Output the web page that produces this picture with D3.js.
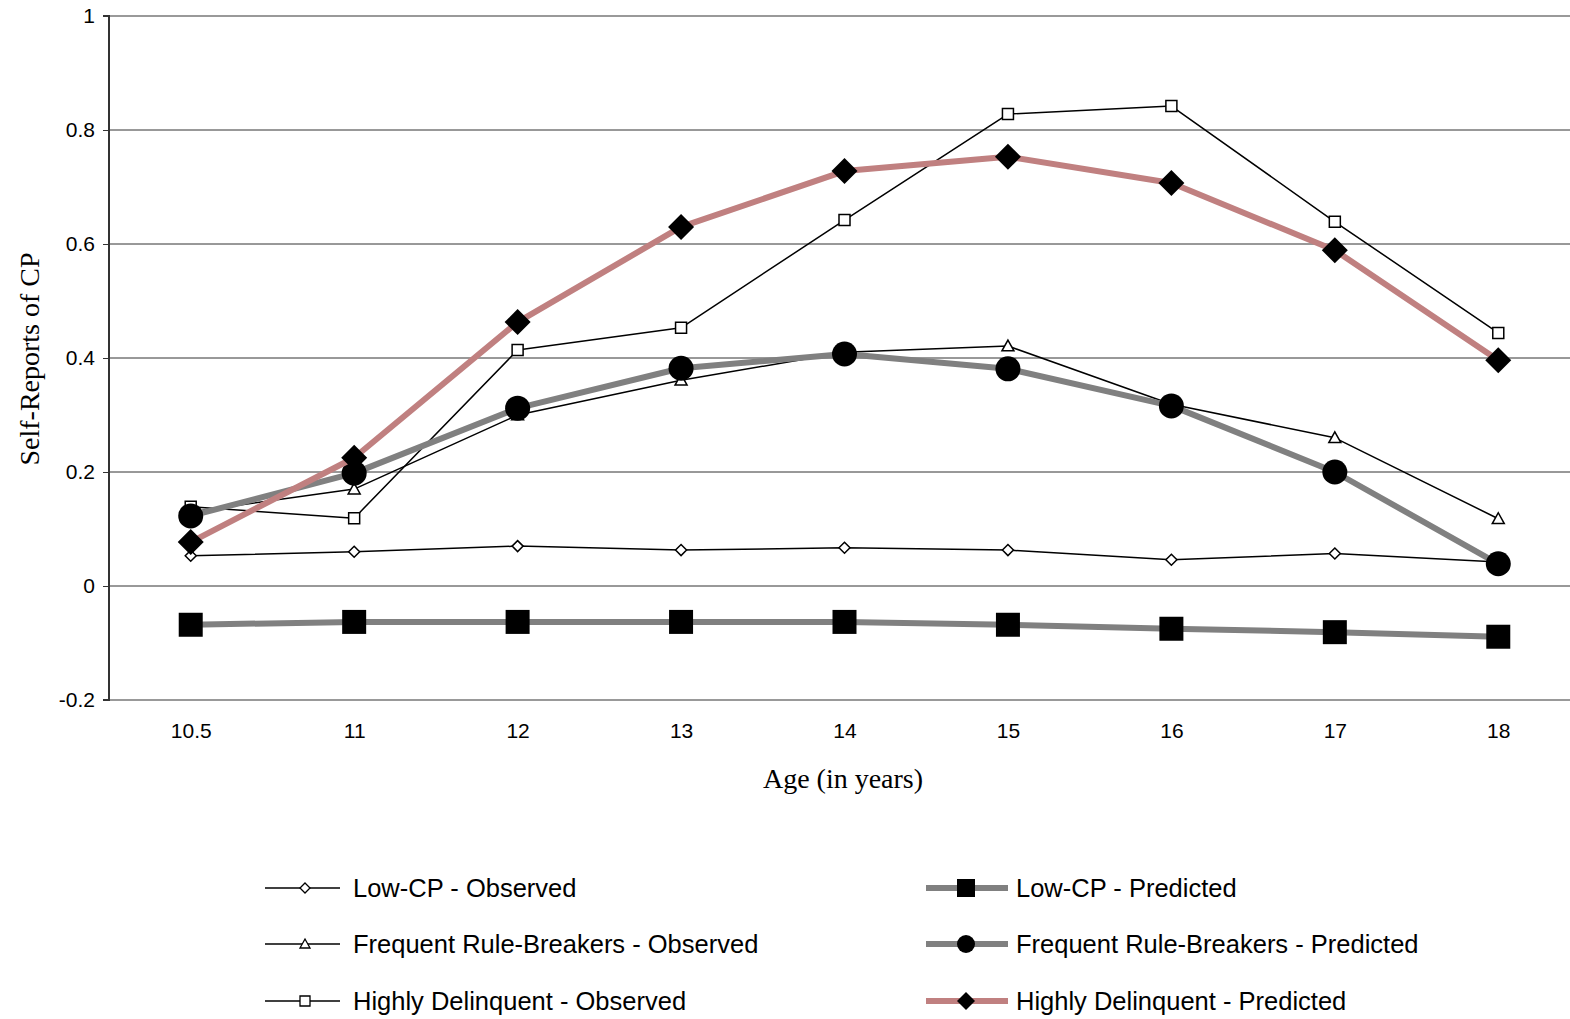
<!DOCTYPE html>
<html><head><meta charset="utf-8">
<script src="https://cdn.jsdelivr.net/npm/d3@7"></script>
<style>body{margin:0;background:#fff}svg{display:block}</style>
</head><body>
<svg id="c" width="1570" height="1019"></svg>
<script>
const ages = ["10.5","11","12","13","14","15","16","17","18"];
const yTicks = [-0.2,0,0.2,0.4,0.6,0.8,1];
const lowObs  = [0.053,0.060,0.070,0.063,0.067,0.063,0.046,0.057,0.042];
const lowPred = [-0.068,-0.063,-0.063,-0.063,-0.063,-0.068,-0.075,-0.081,-0.089];
const frbObs  = [0.130,0.170,0.300,0.361,0.410,0.421,0.319,0.260,0.118];
const frbPred = [0.123,0.198,0.312,0.382,0.407,0.381,0.316,0.200,0.039];
const hdObs   = [0.139,0.119,0.414,0.453,0.642,0.828,0.842,0.639,0.444];
const hdPred  = [0.077,0.225,0.463,0.630,0.728,0.753,0.707,0.589,0.396];
const seriesNames = ["Low-CP - Observed","Frequent Rule-Breakers - Observed","Highly Delinquent - Observed",
                     "Low-CP - Predicted","Frequent Rule-Breakers - Predicted","Highly Delinquent - Predicted"];

const series = [
  {name:seriesNames[0], values:lowObs,  color:"#000", width:1.5, marker:"diamond", size:11, fill:"#fff"},
  {name:seriesNames[1], values:frbObs,  color:"#000", width:1.5, marker:"triangle", size:12, fill:"#fff"},
  {name:seriesNames[2], values:hdObs,   color:"#000", width:1.5, marker:"square", size:11, fill:"#fff"},
  {name:seriesNames[3], values:lowPred, color:"#808080", width:6, marker:"square", size:24, fill:"#000"},
  {name:seriesNames[4], values:frbPred, color:"#808080", width:6, marker:"circle", size:25, fill:"#000"},
  {name:seriesNames[5], values:hdPred,  color:"#C08080", width:6, marker:"diamond", size:26, fill:"#000"}
];

const svg = d3.select("#c");
const L = 109, R = 1580, T = 16, B = 700;
const x = d3.scalePoint().domain(ages).range([L, R]).padding(0.5);
const y = d3.scaleLinear().domain([-0.2, 1]).range([B, T]);
const sans = "Arial, 'Liberation Sans', sans-serif";
const serif = "'Liberation Serif', 'Times New Roman', serif";

// gridlines
svg.append("g").selectAll("line").data(yTicks).join("line")
  .attr("x1", L).attr("x2", R)
  .attr("y1", d => y(d)).attr("y2", d => y(d))
  .attr("stroke", d => (d === 1 || d === -0.2) ? "#999" : "#333")
  .attr("stroke-width", d => (d === 1 || d === -0.2) ? 2 : 1);

// y axis
const yAxis = d3.axisLeft(y).tickValues(yTicks).tickSize(6).tickPadding(8)
  .tickFormat(d => String(+d.toFixed(1)));
const gy = svg.append("g").attr("transform", `translate(${L},0)`).call(yAxis);
gy.attr("font-family", sans).attr("font-size", 21);
gy.select(".domain").attr("stroke", "#333").attr("stroke-width", 2).attr("d", `M-6,${T}H0V${B}H-6`);
gy.selectAll(".tick line").attr("stroke", "#333");
gy.selectAll("text").attr("fill", "#000");

// x tick labels
const xAxis = d3.axisBottom(x).tickSize(0).tickPadding(23);
const gx = svg.append("g").attr("transform", `translate(0,${B})`).call(xAxis);
gx.attr("font-family", sans).attr("font-size", 21);
gx.select(".domain").remove();
gx.selectAll("text").attr("fill", "#000");

// axis titles
svg.append("text").attr("x", 843).attr("y", 788).attr("text-anchor", "middle")
  .attr("font-family", serif).attr("font-size", 28).text("Age (in years)");
svg.append("text").attr("transform", "translate(39,359) rotate(-90)").attr("text-anchor", "middle")
  .attr("font-family", serif).attr("font-size", 28).text("Self-Reports of CP");

function markerPath(type, s) {
  const h = s / 2;
  if (type === "square") return `M${-h},${-h}H${h}V${h}H${-h}Z`;
  if (type === "diamond") return `M0,${-h}L${h},0L0,${h}L${-h},0Z`;
  if (type === "triangle") return `M0,${-h}L${h},${h*0.8}L${-h},${h*0.8}Z`;
  return d3.symbol(d3.symbolCircle, Math.PI * h * h)();
}

const line = d3.line().x((d, i) => x(ages[i])).y(d => y(d));
const plot = svg.append("g");
series.forEach(s => {
  plot.append("path").attr("d", line(s.values)).attr("fill", "none")
    .attr("stroke", s.color).attr("stroke-width", s.width).attr("stroke-linejoin", "round");
  plot.append("g").selectAll("path").data(s.values).join("path")
    .attr("transform", (d, i) => `translate(${x(ages[i])},${y(d)})`)
    .attr("d", markerPath(s.marker, s.size))
    .attr("fill", s.fill).attr("stroke", "#000").attr("stroke-width", s.fill === "#fff" ? 1.5 : 0);
});

// legend
const legendPos = [
  {lx1:265, lx2:340, mx:305, tx:353, y:888},
  {lx1:265, lx2:340, mx:305, tx:353, y:944},
  {lx1:265, lx2:340, mx:305, tx:353, y:1001},
  {lx1:926, lx2:1008, mx:966, tx:1016, y:888},
  {lx1:926, lx2:1008, mx:966, tx:1016, y:944},
  {lx1:926, lx2:1008, mx:966, tx:1016, y:1001}
];
const lg = svg.append("g");
series.forEach((s, i) => {
  const p = legendPos[i];
  lg.append("line").attr("x1", p.lx1).attr("x2", p.lx2).attr("y1", p.y).attr("y2", p.y)
    .attr("stroke", s.color).attr("stroke-width", s.width);
  const ms = s.fill === "#fff" ? 10 : 18;
  lg.append("path").attr("transform", `translate(${p.mx},${p.y})`).attr("d", markerPath(s.marker, ms))
    .attr("fill", s.fill).attr("stroke", "#000").attr("stroke-width", s.fill === "#fff" ? 1.3 : 0);
  lg.append("text").attr("x", p.tx).attr("y", p.y).attr("dy", "0.35em")
    .attr("font-family", sans).attr("font-size", 25.5).text(s.name);
});
</script>
</body></html>
